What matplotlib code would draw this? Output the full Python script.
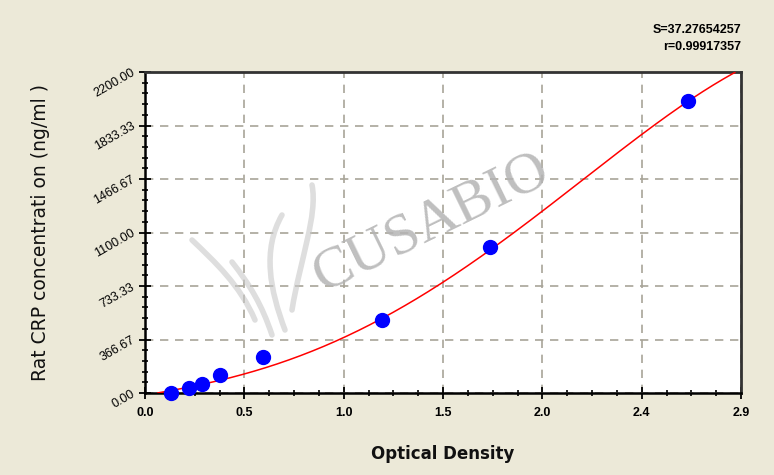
import numpy as np
import matplotlib
matplotlib.use("Agg")
import matplotlib.pyplot as plt
from matplotlib.ticker import FixedLocator, AutoMinorLocator
from matplotlib.path import Path
from matplotlib.patches import PathPatch

# Data
od = [0.125, 0.214, 0.276, 0.365, 0.574, 1.152, 1.679, 2.644]
conc = [0, 31.25, 62.5, 125, 250, 500, 1000, 2000]
# standard curve
curve_od = [0.049, 0.219, 0.5, 1.0, 1.152, 1.679, 2.644, 2.87]
curve_conc = [0, 32, 150, 404, 495, 990, 1995, 2200]
x_ticks_labels = ['0.0', '0.5', '1.0', '1.5', '2.0', '2.4', '2.9']
y_ticks_labels = ['0.00', '366.67', '733.33', '1100.00', '1466.67', '1833.33', '2200.00']
stat_s = 'S=37.27654257'
stat_r = 'r=0.99917357'
xmax, ymax = 2.9, 2200.0

bg = '#ECE9D8'
fig = plt.figure(figsize=(7.74, 4.75), dpi=100, facecolor=bg)
ax = fig.add_axes([145/774, 1-393/475, (741-145)/774, (393-72)/475])
ax.set_facecolor('white')

# fitted standard curve
coef = np.polyfit(curve_od, curve_conc, 4)
xs = np.linspace(curve_od[0], curve_od[-1], 400)
ys = np.polyval(coef, xs)
mask = (ys >= 0) & (ys <= ymax)
ax.plot(xs[mask], ys[mask], color='#FF0000', lw=1.1, zorder=3)
ax.plot(od, conc, 'o', color='#0000FF', ms=10, zorder=4, clip_on=False)

ax.set_xlim(0, xmax)
ax.set_ylim(0, ymax)
xt = np.linspace(0, xmax, len(x_ticks_labels))
yt = np.linspace(0, ymax, len(y_ticks_labels))
ax.xaxis.set_major_locator(FixedLocator(xt))
ax.yaxis.set_major_locator(FixedLocator(yt))
ax.set_xticklabels(x_ticks_labels, fontsize=9, fontweight='bold',
                   family=['Liberation Sans Narrow', 'Liberation Sans'])
ax.set_yticklabels(y_ticks_labels, fontsize=9, rotation=30,
                   family=['Liberation Sans Narrow', 'Liberation Sans'],
                   rotation_mode='anchor', ha='right', va='center')
ax.xaxis.set_minor_locator(AutoMinorLocator(4))
ax.yaxis.set_minor_locator(AutoMinorLocator(5))
ax.tick_params(which='major', direction='inout', length=8, width=1.3, color='black', pad=6)
ax.tick_params(axis='y', which='major', pad=4)
ax.tick_params(which='minor', direction='inout', length=5, width=1.2, color='black')
ax.grid(True, which='major', color='#A8A498', ls=(0, (5, 4)), lw=1.2)
for s in ['left', 'bottom']:
    ax.spines[s].set_linewidth(1.8)
    ax.spines[s].set_color('black')
for s in ['top', 'right']:
    ax.spines[s].set_linewidth(2)
    ax.spines[s].set_color('#333333')

ax.set_xlabel('Optical Density', fontsize=12, fontweight='bold', labelpad=19,
              family=['DejaVu Sans'], color='#111111')
ax.set_ylabel('Rat CRP concentrati on (ng/ml )', fontsize=13.5, labelpad=30,
              family=['DejaVu Sans'], color='#111111')

# watermark text
ax.text(0.48, 0.53, 'CUSABIO', transform=ax.transAxes, fontsize=42, color='#B4B4B4',
        family=['Liberation Serif', 'DejaVu Serif'], rotation=26, ha='center', va='center',
        alpha=0.85, zorder=2)

# watermark logo strokes (figure pixel coordinates, y measured from top)
def px(x, y):
    return (x / 774, 1 - y / 475)

strokes = [
    [(192, 240), (215, 262), (240, 285), (255, 320)],
    [(312, 185), (318, 215), (300, 260), (292, 310)],
    [(282, 215), (262, 250), (270, 290), (285, 330)],
    [(232, 262), (250, 285), (262, 305), (272, 335)],
]
for st in strokes:
    verts = [px(*p) for p in st]
    path = Path(verts, [Path.MOVETO, Path.CURVE4, Path.CURVE4, Path.CURVE4])
    fig.patches.append(PathPatch(path, transform=fig.transFigure, fill=False,
                                 edgecolor='#C8C8C8', lw=4, alpha=0.6, capstyle='round',
                                 zorder=2))

fig.text(741/774, 1-30/475, stat_s, ha='right', va='center', fontsize=9, fontweight='bold',
         family=['Liberation Sans Narrow', 'Liberation Sans'])
fig.text(741/774, 1-47/475, stat_r, ha='right', va='center', fontsize=9, fontweight='bold',
         family=['Liberation Sans Narrow', 'Liberation Sans'])

fig.savefig('out.png', dpi=100, facecolor=bg)
